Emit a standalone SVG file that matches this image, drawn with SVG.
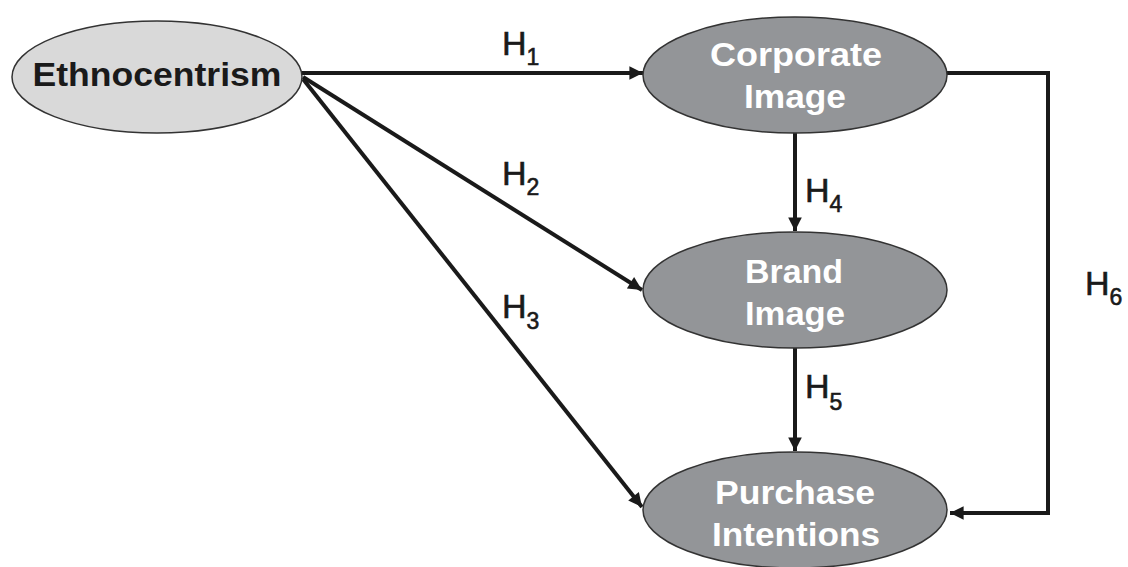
<svg xmlns="http://www.w3.org/2000/svg" width="1128" height="567" viewBox="0 0 1128 567">
<defs>
<style>
.node{stroke:#333;stroke-width:1.5}
.light{fill:#d9d9d9}
.dark{fill:#939598}
.nt{font-family:"Liberation Sans",Arial,sans-serif;font-weight:bold;font-size:34px;text-anchor:middle}
.w{fill:#ffffff}
.k{fill:#1a1a1a}
.edge{stroke:#1a1a1a;stroke-width:4;fill:none}
.lab{font-family:"Liberation Sans",Arial,sans-serif;font-size:34px;fill:#1a1a1a;stroke:#1a1a1a;stroke-width:0.6}
.sub{font-size:23px}
</style>
<marker id="arr" viewBox="0 0 10 10" refX="10" refY="5" markerWidth="4" markerHeight="3.4" markerUnits="strokeWidth" orient="auto">
<path d="M0,0 L10,5 L0,10 Z" fill="#1a1a1a"/>
</marker>
</defs>
<rect width="1128" height="567" fill="#ffffff"/>
<g id="connectors">
<line class="edge" x1="302" y1="73" x2="643" y2="73" marker-end="url(#arr)"/>
<line class="edge" x1="303" y1="77" x2="642" y2="290" marker-end="url(#arr)"/>
<line class="edge" x1="303" y1="79" x2="642" y2="507" marker-end="url(#arr)"/>
<line class="edge" x1="795" y1="133" x2="795" y2="231" marker-end="url(#arr)"/>
<line class="edge" x1="795" y1="348" x2="795" y2="451" marker-end="url(#arr)"/>
<polyline class="edge" points="947,73 1048,73 1048,513 950,513" marker-end="url(#arr)"/>
<text class="lab" x="502" y="55">H<tspan class="sub" dy="10">1</tspan></text>
<text class="lab" x="502" y="185">H<tspan class="sub" dy="10">2</tspan></text>
<text class="lab" x="502" y="318">H<tspan class="sub" dy="11">3</tspan></text>
<text class="lab" x="805" y="202">H<tspan class="sub" dy="10">4</tspan></text>
<text class="lab" x="805" y="398">H<tspan class="sub" dy="12">5</tspan></text>
<text class="lab" x="1085" y="295">H<tspan class="sub" dy="10">6</tspan></text>
</g>
<g id="ethnocentrism">
<ellipse class="node light" cx="157" cy="77" rx="145" ry="56"/>
<text class="nt k" x="157" y="86" textLength="249" lengthAdjust="spacingAndGlyphs">Ethnocentrism</text>
</g>
<g id="corporate-image">
<ellipse class="node dark" cx="795" cy="75" rx="152" ry="58"/>
<text class="nt w" x="796" y="66" textLength="172" lengthAdjust="spacingAndGlyphs">Corporate</text>
<text class="nt w" x="795" y="108" textLength="102" lengthAdjust="spacingAndGlyphs">Image</text>
</g>
<g id="brand-image">
<ellipse class="node dark" cx="795" cy="290" rx="152" ry="58"/>
<text class="nt w" x="794" y="283" textLength="98" lengthAdjust="spacingAndGlyphs">Brand</text>
<text class="nt w" x="795" y="325" textLength="100" lengthAdjust="spacingAndGlyphs">Image</text>
</g>
<g id="purchase-intentions">
<ellipse class="node dark" cx="795" cy="510" rx="152" ry="58"/>
<text class="nt w" x="795" y="504" textLength="160" lengthAdjust="spacingAndGlyphs">Purchase</text>
<text class="nt w" x="796" y="546" textLength="168" lengthAdjust="spacingAndGlyphs">Intentions</text>
</g>
</svg>
